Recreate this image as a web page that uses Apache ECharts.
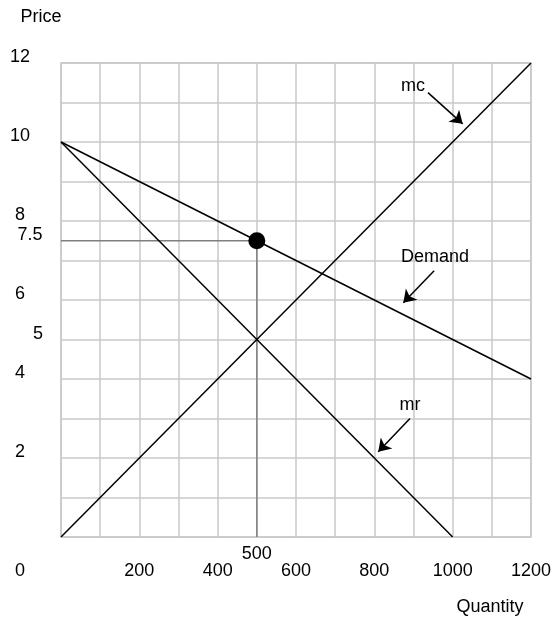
<!DOCTYPE html>
<html>
<head>
<meta charset="utf-8">
<script src="https://cdn.jsdelivr.net/npm/echarts@6/dist/echarts.min.js"></script>
<style>
html,body{margin:0;padding:0;background:#fff;}
#chart{width:556px;height:622px;}
</style>
</head>
<body>
<div id="chart"></div>
<script>
// ---- data ----
const demandLine = [[0, 10], [1200, 4]];
const mrLine = [[0, 10], [1000, 0]];
const mcLine = [[0, 0], [1200, 12]];
const equilibrium = [[500, 7.5]];
const guidePrice = [[0, 7.5], [500, 7.5]];
const guideQuantity = [[500, 7.5], [500, 0]];
const xTickLabels = [0, 200, 400, 500, 600, 800, 1000, 1200];
const yTickLabels = [12, 10, 8, 7.5, 6, 5, 4, 2];
const axisTitles = ['Quantity', 'Price'];
const annotationNames = ['mc', 'Demand', 'mr'];
const annotationAt = [[899, 11.42], [955, 7.09], [891, 3.34]];
const arrowFrom = [[937, 11.25], [952.7, 6.74], [891, 3.0]];
const arrowTo = [[1025.6, 10.46], [874, 5.93], [810, 2.16]];

const FONT = 'Liberation Sans';
const FS = 18;
const TXT = '#000';
const GRIDC = '#c8c8c8';

const chart = echarts.init(document.getElementById('chart'), null, {renderer: 'canvas'});

function xLabel(v) {
  if (xTickLabels.indexOf(v) < 0) return '';
  if (v === 0) return '{z|0}';
  if (v === 500) return '{f|500}';
  return '{n|' + v + '}';
}
function yLabel(v) {
  if (yTickLabels.indexOf(v) < 0) return '';
  if (v === 7.5) return '{b|7.5}';
  if (v === 5) return '{c|5}';
  return '{a|' + v + '}';
}
const base = {fontFamily: FONT, fontSize: FS, color: TXT};
const titleFont = FS + 'px "' + FONT + '"';

const option = {
  animation: false,
  backgroundColor: '#fff',
  grid: {left: 61, top: 63, width: 470, height: 474, containLabel: false, outerBoundsMode: 'none',
         show: true, borderColor: GRIDC, borderWidth: 1.5},
  graphic: [
    {type: 'text', x: 490, y: 607, style: {text: axisTitles[0], font: titleFont, fill: TXT, align: 'center', verticalAlign: 'middle'}},
    {type: 'text', x: 41, y: 17, style: {text: axisTitles[1], font: titleFont, fill: TXT, align: 'center', verticalAlign: 'middle'}}
  ],
  xAxis: [{
    type: 'value', min: 0, max: 1200, interval: 100,
    axisLine: {show: false}, axisTick: {show: false},
    splitLine: {show: true, lineStyle: {color: GRIDC, width: 1.5}},
    axisLabel: {
      show: true, margin: 34, verticalAlign: 'middle', align: 'center',
      formatter: xLabel,
      rich: {
        n: Object.assign({}, base),
        z: Object.assign({padding: [0, 82, 0, 0]}, base),
        f: Object.assign({padding: [0, 0, 34, 0]}, base)
      }
    }
  }],
  yAxis: [{
    type: 'value', min: 0, max: 12, interval: 1,
    axisLine: {show: false}, axisTick: {show: false},
    splitLine: {show: true, lineStyle: {color: GRIDC, width: 1.5}},
    axisLabel: {show: false}
  }, {
    type: 'value', min: 0, max: 12, interval: 0.5, position: 'left', offset: 0,
    axisLine: {show: false}, axisTick: {show: false}, splitLine: {show: false},
    axisLabel: {
      show: true, margin: 41, align: 'center', verticalAlign: 'middle',
      formatter: yLabel,
      rich: {
        a: Object.assign({padding: [0, 0, 11, 0]}, base),
        b: Object.assign({padding: [0, 0, 11, 20]}, base),
        c: Object.assign({padding: [0, 0, 11, 36]}, base)
      }
    }
  }],
  series: [
    {type: 'line', data: guidePrice, showSymbol: false, silent: true,
     lineStyle: {color: '#7f7f7f', width: 1.5}, z: 2},
    {type: 'line', data: guideQuantity, showSymbol: false, silent: true,
     lineStyle: {color: '#7f7f7f', width: 1.5}, z: 2},
    {type: 'line', name: 'Demand', data: demandLine, showSymbol: false, silent: true,
     lineStyle: {color: '#000', width: 1.5}, z: 3},
    {type: 'line', name: 'mr', data: mrLine, showSymbol: false, silent: true,
     lineStyle: {color: '#000', width: 1.5}, z: 3},
    {type: 'line', name: 'mc', data: mcLine, showSymbol: false, silent: true,
     lineStyle: {color: '#000', width: 1.5}, z: 3},
    {type: 'scatter', data: equilibrium, symbol: 'circle', symbolSize: 17,
     itemStyle: {color: '#000', opacity: 1}, silent: true, z: 5},
    {type: 'lines', coordinateSystem: 'cartesian2d', silent: true, z: 4,
     symbol: ['none', 'arrow'], symbolSize: [8, 12],
     lineStyle: {color: '#000', width: 1.5, opacity: 1},
     data: arrowFrom.map((f, i) => ({coords: [f, arrowTo[i]]}))},
    {type: 'scatter', silent: true, z: 6, symbolSize: 0,
     itemStyle: {opacity: 1, color: '#000'},
     data: annotationNames.map((n, i) => ({name: n, value: annotationAt[i]})),
     label: Object.assign({show: true, position: 'inside', formatter: '{b}',
       textBorderWidth: 0, opacity: 1}, base)}
  ]
};
chart.setOption(option);
</script>
</body>
</html>
